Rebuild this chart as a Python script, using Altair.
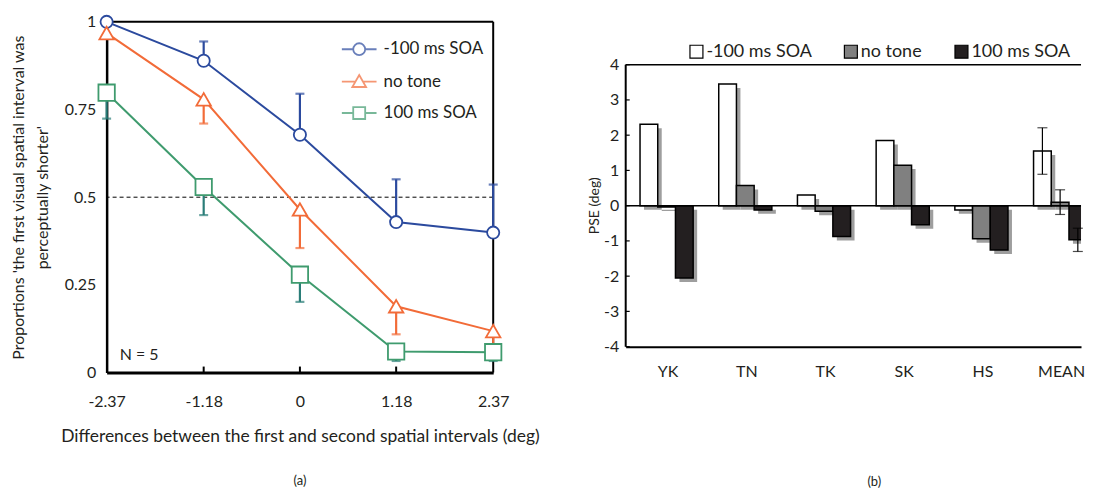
import altair as alt
import pandas as pd

# ---------------- data: panel (a) ----------------
x_vals = [-2.37, -1.18, 0, 1.18, 2.37]
series_names = ["-100 ms SOA", "no tone", "100 ms SOA"]
p_neg100 = [1.0, 0.889, 0.678, 0.429, 0.399]
p_notone = [0.968, 0.779, 0.465, 0.189, 0.118]
p_pos100 = [0.798, 0.529, 0.279, 0.060, 0.058]
# one-sided error bar ends (None = no bar drawn)
e_neg100 = [None, 0.944, 0.795, 0.551, 0.536]
e_notone = [None, 0.710, 0.355, 0.109, 0.070]
e_pos100 = [0.724, 0.449, 0.2015, 0.033, 0.033]
chance_level = [0.5]
n_label = ["N = 5"]

# ---------------- data: panel (b) ----------------
subjects = ["YK", "TN", "TK", "SK", "HS", "MEAN"]
pse_neg100 = [2.31, 3.45, 0.30, 1.85, -0.12, 1.55]
pse_notone = [-0.04, 0.57, -0.16, 1.15, -0.94, 0.10]
pse_pos100 = [-2.05, -0.12, -0.875, -0.54, -1.26, -0.97]
mean_err = [0.66, 0.35, 0.33]
pse_ticks = [-4, -3, -2, -1, 0, 1, 2, 3, 4]
pse_title = ["PSE (deg)"]

FONT = "Lato"
TXT = "#231f20"
line_colors = ["#2b4a9e", "#f26b38", "#3f9b6e"]
err_colors = ["#2b4a9e", "#f26b38", "#2a7d78"]
bar_fills = ["#ffffff", "#808080", "#231f20"]

rows = []
for s, ps, es in zip(series_names, [p_neg100, p_notone, p_pos100], [e_neg100, e_notone, e_pos100]):
    for xv, pv, ev in zip(x_vals, ps, es):
        rows.append({"x": xv, "p": pv, "e": ev, "series": s})
df_a = pd.DataFrame(rows)

W_A, H_A = 388, 352
xs_a = alt.Scale(domain=[-2.37, 2.37], nice=False, zero=False)
ys_a = alt.Scale(domain=[0, 1], nice=False)

x_enc = alt.X("x:Q", scale=xs_a, axis=alt.Axis(
    values=x_vals, tickSize=0, labelPadding=21, domainWidth=3, domainColor="black",
    labelExpr="datum.value == 0 ? '0' : (datum.value < 0 ? '-' + format(-datum.value, '.2f') : format(datum.value, '.2f'))",
    title="Differences between the first and second spatial intervals (deg)", titlePadding=18,
    labelFontSize=16, titleFontSize=17.5, labelFlush=False, labelOverlap=False))
y_enc = alt.Y("p:Q", scale=ys_a, axis=alt.Axis(
    values=[0, 0.25, 0.5, 0.75, 1], tickSize=0, labelPadding=11, domainWidth=2.5, domainColor="black",
    labelExpr="format(datum.value, '~g')",
    title=["Proportions 'the first visual spatial interval was", "perceptually shorter'"],
    titlePadding=14, titleLineHeight=24, labelFontSize=16, titleFontSize=16, labelFlush=False,
    labelOverlap=False))

def cscale(rng):
    return alt.Scale(domain=series_names, range=rng)

base_a = alt.Chart(df_a)

lines = base_a.mark_line(strokeWidth=2).encode(
    x=x_enc, y=y_enc,
    color=alt.Color("series:N", scale=cscale(line_colors), legend=None),
    order=alt.Order("x:Q"))

err_base = base_a.transform_filter("isValid(datum.e)")
err_rules = err_base.mark_rule(strokeWidth=2.2).encode(
    x="x:Q", y="p:Q", y2="e:Q",
    color=alt.Color("series:N", scale=cscale(err_colors), legend=None))
err_caps = err_base.mark_tick(orient="horizontal", size=9, thickness=2.2).encode(
    x="x:Q", y="e:Q",
    color=alt.Color("series:N", scale=cscale(err_colors), legend=None))

points = base_a.mark_point(filled=True, fill="white", strokeWidth=1.8, opacity=1).encode(
    x="x:Q", y="p:Q",
    stroke=alt.Stroke("series:N", scale=cscale(line_colors), legend=None),
    shape=alt.Shape("series:N", scale=alt.Scale(domain=series_names, range=["circle", "triangle-up", "square"]), legend=None),
    size=alt.Size("series:N", scale=alt.Scale(domain=series_names, range=[150, 270, 190]), legend=None))

legend_paths = [
    "M-2.9,0L-1,0M1,0L2.9,0M-1,0A1,1,0,1,1,1,0A1,1,0,1,1,-1,0Z",
    "M-2.9,0L-0.6,0M0.6,0L2.9,0M0,-1.1L1.15,0.9L-1.15,0.9Z",
    "M-2.9,0L-1,0M1,0L2.9,0M-1,-1L1,-1L1,1L-1,1Z",
]
leg_a = dict(orient="none", legendX=245, legendY=19, title=None, padding=0,
             symbolSize=144, symbolStrokeWidth=1.8, labelOffset=16, rowPadding=11.5,
             labelFontSize=17, labelFont=FONT, labelColor=TXT, symbolFillColor="white")
legend_layer = base_a.transform_filter("false").mark_point(filled=False, size=144, strokeWidth=1.8).encode(
    x="x:Q", y="p:Q",
    color=alt.Color("series:N", scale=cscale(line_colors), legend=alt.Legend(**leg_a)),
    shape=alt.Shape("series:N", scale=alt.Scale(domain=series_names, range=legend_paths), legend=alt.Legend(**leg_a)))

half = alt.Chart(pd.DataFrame({"h": chance_level})).mark_rule(
    strokeDash=[4, 3], strokeWidth=1, color="black").encode(y="h:Q")
top_a = alt.Chart(pd.DataFrame({"t": [1]})).mark_rule(strokeWidth=2, color="black").encode(y="t:Q")
right_a = alt.Chart(pd.DataFrame({"r": [x_vals[-1]]})).mark_rule(strokeWidth=2, color="black").encode(x="r:Q")
inner_ticks = alt.Chart(pd.DataFrame({"t": x_vals[1:-1]})).mark_rule(strokeWidth=2, color="black").encode(
    x="t:Q", y=alt.value(H_A), y2=alt.value(H_A - 6))
n_text = alt.Chart(pd.DataFrame({"label": n_label})).mark_text(
    align="left", baseline="middle", fontSize=16, font=FONT, color=TXT).encode(
    x=alt.datum(-2.21), y=alt.datum(0.051), text="label:N")

panel_a = alt.layer(
    half, top_a, right_a, inner_ticks, lines, err_rules, err_caps, points, legend_layer, n_text
).resolve_scale(color="independent", shape="independent").properties(
    width=W_A, height=H_A,
    title=alt.TitleParams("(a)", orient="bottom", frame="group", offset=30, fontSize=13,
                          font=FONT, fontWeight="normal", color=TXT))

# ---------------- panel (b) ----------------
rows_b = []
for k, (s, vals) in enumerate(zip(series_names, [pse_neg100, pse_notone, pse_pos100])):
    for i, (subj, v) in enumerate(zip(subjects, vals)):
        err = mean_err[k] if subj == "MEAN" else None
        rows_b.append({"idx": i, "k": k, "series": s, "v": v, "err": err})
df_b = pd.DataFrame(rows_b)

# plot area is taller than the -4..4 frame: the band above 4 holds the legend
W_B, H_B = 457, 326
xs_b = alt.Scale(domain=[-0.532, 5.253], nice=False, zero=False)
ys_b = alt.Scale(domain=[-4, 5.2155], nice=False, zero=False)
label_expr_b = "[" + ",".join("'" + s + "'" for s in subjects) + "][datum.value]"

base_b = alt.Chart(df_b).transform_calculate(
    x0="datum.idx - 0.35 + datum.k * 0.225",
    x1="datum.idx - 0.125 + datum.k * 0.225",
    xc="datum.idx - 0.2375 + datum.k * 0.225",
    lo="datum.v - datum.err",
    hi="datum.v + datum.err",
    zero="0")

xb = alt.X("x0:Q", scale=xs_b, axis=alt.Axis(
    values=list(range(len(subjects))), labelExpr=label_expr_b, tickSize=0, labelPadding=17,
    domainWidth=2, domainColor="black", title=None, labelFontSize=16, labelFlush=False,
    labelOverlap=False))
yb = alt.Y("v:Q", scale=ys_b, axis=alt.Axis(
    values=pse_ticks, tickSize=0, labelPadding=7, domain=False,
    labelExpr="datum.value < 0 ? '-' + format(-datum.value, 'd') : format(datum.value, 'd')",
    title=None, labelFontSize=16, labelFlush=False, labelOverlap=False))

shadows = base_b.mark_bar(color="#9e9e9e", xOffset=4, x2Offset=4, yOffset=4, y2Offset=4, clip=True).encode(
    x=xb, x2="x1:Q", y=yb, y2="zero:Q")
bars = base_b.mark_bar(stroke="black", strokeWidth=1.5, clip=True).encode(
    x="x0:Q", x2="x1:Q", y="v:Q", y2="zero:Q",
    color=alt.Color("series:N", scale=alt.Scale(domain=series_names, range=bar_fills),
                    legend=alt.Legend(orient="none", direction="horizontal", legendX=62, legendY=21,
                                      padding=0, title=None, symbolType="square", symbolSize=169,
                                      symbolStrokeColor="black", symbolStrokeWidth=1.2, labelOffset=1,
                                      columnPadding=30, labelFontSize=18, labelFont=FONT,
                                      labelColor=TXT)))
err_b = base_b.transform_filter("isValid(datum.err)")
err_rules_b = err_b.mark_rule(strokeWidth=1.2, color="black").encode(x="xc:Q", y="lo:Q", y2="hi:Q")
err_lo_b = err_b.mark_tick(orient="horizontal", size=10, thickness=1.2, color="black").encode(x="xc:Q", y="lo:Q")
err_hi_b = err_b.mark_tick(orient="horizontal", size=10, thickness=1.2, color="black").encode(x="xc:Q", y="hi:Q")
zero_line = alt.Chart(pd.DataFrame({"z": [0]})).mark_rule(strokeWidth=1.5, color="black").encode(y="z:Q")
top_b = alt.Chart(pd.DataFrame({"t": [pse_ticks[-1]]})).mark_rule(strokeWidth=1.5, color="black").encode(y="t:Q")
left_b = alt.Chart(pd.DataFrame({"a": [pse_ticks[0]], "b": [pse_ticks[-1]]})).mark_rule(
    strokeWidth=2, color="black").encode(x=alt.value(0), y="a:Q", y2="b:Q")
yticks_b = alt.Chart(pd.DataFrame({"t": pse_ticks})).mark_rule(strokeWidth=1.2, color="black").encode(
    y="t:Q", x=alt.value(0), x2=alt.value(4))
ytitle_b = alt.Chart(pd.DataFrame({"label": pse_title})).mark_text(
    angle=270, align="center", baseline="middle", fontSize=14, font=FONT, color=TXT).encode(
    x=alt.value(-31), y=alt.datum(0), text="label:N")

panel_b = alt.layer(
    shadows, bars, err_rules_b, err_lo_b, err_hi_b, zero_line, top_b, left_b, yticks_b, ytitle_b
).properties(
    width=W_B, height=H_B,
    title=alt.TitleParams("(b)", orient="bottom", frame="group", offset=97, dx=21, fontSize=13,
                          font=FONT, fontWeight="normal", color=TXT))

chart = alt.hconcat(panel_a, panel_b, spacing=48).resolve_scale(
    color="independent", shape="independent", stroke="independent", size="independent"
).resolve_legend(color="independent", shape="independent").properties(
    padding={"left": 2, "top": 3, "right": 0, "bottom": 0}, background="white"
).configure_view(stroke=None).configure_axis(
    grid=False, labelFont=FONT, titleFont=FONT, labelColor=TXT, titleColor=TXT,
    titleFontWeight="normal"
)

chart.save("out.html", embed_options={"renderer": "svg", "actions": False})
